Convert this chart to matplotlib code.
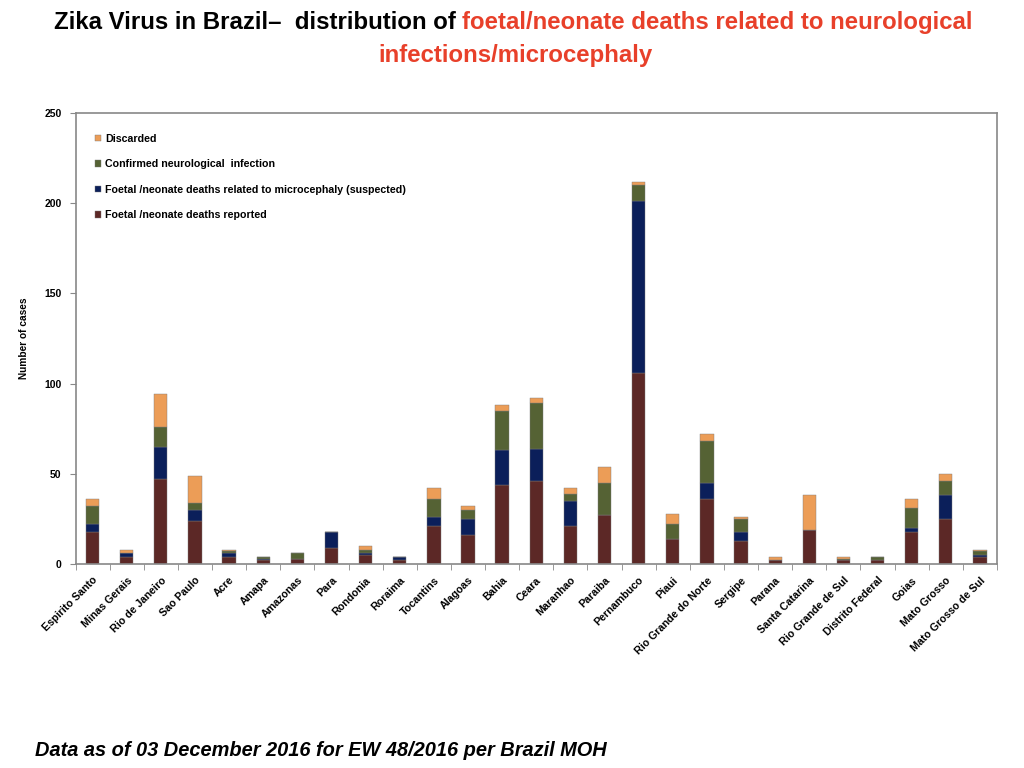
import matplotlib
matplotlib.use("Agg")
import matplotlib.pyplot as plt
from matplotlib import font_manager
import numpy as np

plt.rcParams["font.family"] = ["Liberation Sans", "DejaVu Sans"]

# 州名
states = [
    "Espirito Santo", "Minas Gerais", "Rio de Janeiro", "Sao Paulo", "Acre",
    "Amapa", "Amazonas", "Para", "Rondonia", "Roraima", "Tocantins",
    "Alagoas", "Bahia", "Ceara", "Maranhao", "Paraiba", "Pernambuco",
    "Piaui", "Rio Grande do Norte", "Sergipe", "Parana", "Santa Catarina",
    "Rio Grande de Sul", "Distrito Federal", "Goias", "Mato Grosso",
    "Mato Grosso de Sul",
]

# 各系列数值
reported = [18, 4, 47, 24, 4, 2, 3, 9, 5, 2, 21, 16, 44, 46, 21, 27, 106,
            14, 36, 13, 2, 19, 2, 2, 18, 25, 4]
suspected = [4, 2, 18, 6, 2, 1, 0, 9, 1, 2, 5, 9, 19, 18, 14, 0, 95,
             0, 9, 5, 0, 0, 0, 0, 2, 13, 1]
confirmed = [10, 0, 11, 4, 1, 1, 3, 0, 2, 0, 10, 5, 22, 25, 4, 18, 9,
             8, 23, 7, 0, 0, 1, 2, 11, 8, 2]
discarded = [4, 2, 18, 15, 1, 0, 0, 0, 2, 0, 6, 2, 3, 3, 3, 9, 2,
             6, 4, 1, 2, 19, 1, 0, 5, 4, 1]

series_labels = [
    "Foetal /neonate deaths reported",
    "Foetal /neonate deaths related to microcephaly (suspected)",
    "Confirmed neurological  infection",
    "Discarded",
]
colors = ["#5C2826", "#0B1F5A", "#556234", "#EC9D57"]

# 标题字体：优先窄体
_names = {f.name for f in font_manager.fontManager.ttflist}
title_font = ["Liberation Sans Narrow"] if "Liberation Sans Narrow" in _names \
    else ["Liberation Sans"]

fig = plt.figure(figsize=(10.24, 7.68), dpi=100)
ax = fig.add_axes([75.5 / 1024, 0.2656, 921.5 / 1024, 0.5873])

x = np.arange(len(states))
bottom = np.zeros(len(states))
handles = []
for vals, lab, c in zip([reported, suspected, confirmed, discarded],
                        series_labels, colors):
    h = ax.bar(x, vals, width=0.39, bottom=bottom, color=c,
               edgecolor="#7a7a7a", linewidth=0.3, label=lab)
    handles.append(h)
    bottom += np.array(vals)

ax.set_xlim(-0.5, len(states) - 0.5)
ax.set_ylim(0, 250)
ax.set_yticks([0, 50, 100, 150, 200, 250])
ax.set_yticklabels(["0", "50", "100", "150", "200", "250"],
                   fontsize=7.5, fontweight="bold")
ax.set_xticks(x)
ax.set_xticklabels(states, rotation=45, ha="right", rotation_mode="anchor",
                   fontsize=7.7, fontweight="bold")
ax.tick_params(axis="x", length=0, pad=8)
ax.set_xticks(np.arange(-0.5, len(states), 1), minor=True)
ax.tick_params(axis="x", which="minor", length=4, color="#888888")
ax.tick_params(axis="y", length=4, color="#888888", pad=6)
for sp in ax.spines.values():
    sp.set_color("#888888")
    sp.set_linewidth(1.2)
ax.set_ylabel("Number of cases", fontsize=7.3, fontweight="bold", labelpad=11)

leg = ax.legend(handles[::-1], series_labels[::-1], loc="upper left",
                bbox_to_anchor=(0.011, 0.975), frameon=False,
                prop={"size": 7.7, "weight": "bold"},
                handlelength=0.55, handleheight=0.55, handletextpad=0.4,
                labelspacing=1.45)

# 标题：两段拼接，宽度拟合到约 922 px
renderer = fig.canvas.get_renderer()
fs = 17
part1 = "Zika Virus in Brazil\u2013  distribution of "
part2 = "foetal/neonate deaths related to neurological"
t1 = fig.text(0, 0.971, part1, fontsize=fs, fontweight="bold",
              family=title_font, color="black", ha="left", va="center")
t2 = fig.text(0, 0.971, part2, fontsize=fs, fontweight="bold",
              family=title_font, color="#E8402A", ha="left", va="center")
w1 = t1.get_window_extent(renderer).width
w2 = t2.get_window_extent(renderer).width
fs *= 922.0 / (w1 + w2)
t1.set_fontsize(fs)
t2.set_fontsize(fs)
w1 = t1.get_window_extent(renderer).width
w2 = t2.get_window_extent(renderer).width
x0 = 513 - (w1 + w2) / 2
t1.set_x(x0 / 1024)
t2.set_x((x0 + w1) / 1024)
fig.text(516 / 1024, 0.928, "infections/microcephaly", fontsize=fs,
         fontweight="bold", family=title_font, color="#E8402A",
         ha="center", va="center")

fig.text(0.034, 0.023, "Data as of 03 December 2016 for EW 48/2016 per Brazil MOH",
         fontsize=14.4, fontweight="bold", fontstyle="italic",
         ha="left", va="center")

fig.savefig("out.png", dpi=100)
